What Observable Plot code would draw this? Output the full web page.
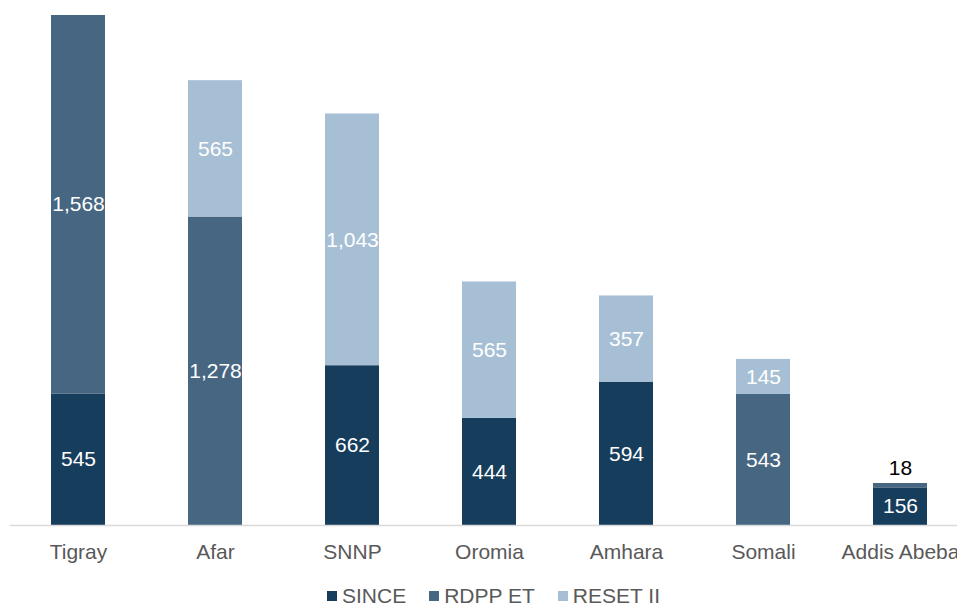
<!DOCTYPE html>
<html>
<head>
<meta charset="utf-8">
<script src="https://cdn.jsdelivr.net/npm/d3@7"></script>
<script src="https://cdn.jsdelivr.net/npm/@observablehq/plot@0.6"></script>
<style>
  html, body { margin: 0; padding: 0; background: #fff; overflow: hidden; }
  body { width: 957px; height: 606px; font-family: "Liberation Sans", Arial, sans-serif; }
  #chart svg { display: block; overflow: visible; }
  #legend { display: flex; justify-content: center; gap: 23px; margin-left: 30px; margin-top: 14px;
            font-size: 21px; line-height: 24px; color: #595959; }
  #legend span.sw { display: inline-block; width: 10px; height: 10px; margin-right: 5px; vertical-align: 2px; }
</style>
</head>
<body>
<div id="chart"></div>
<div id="legend"></div>
<script>
const regions = ["Tigray", "Afar", "SNNP", "Oromia", "Amhara", "Somali", "Addis Abeba"];
const programmes = ["SINCE", "RDPP ET", "RESET II"];
const sinceValues = [545, 0, 662, 444, 594, 0, 156];
const rdppValues = [1568, 1278, 0, 0, 0, 543, 18];
const resetValues = [0, 565, 1043, 565, 357, 145, 0];
const colors = ["#173d5c", "#466682", "#a6bfd4"];

const series = [sinceValues, rdppValues, resetValues];
const rows = [];
regions.forEach((r, i) => {
  let base = 0;
  series.forEach((vals, k) => {
    const v = vals[i];
    if (v > 0) rows.push({region: r, programme: programmes[k], value: v, y1: base, y2: base + v});
    base += v;
  });
});

const totals = regions.map((r, i) => sinceValues[i] + rdppValues[i] + resetValues[i]);
const maxTotal = d3.max(totals);
const fmt = d3.format(",");

const insideRows = rows.filter(d => d.value >= 100);
const outsideRows = rows.filter(d => d.value < 100);

const H = 570;
const plot = Plot.plot({
  width: 957,
  height: H,
  marginTop: 15,
  marginBottom: H - 525,
  marginLeft: 10,
  marginRight: 0,
  style: {fontFamily: '"Liberation Sans", Arial, sans-serif', background: "#fff", overflow: "visible"},
  x: {domain: regions, range: [9.5, 968.5], paddingInner: 0.605, paddingOuter: 0.3025, label: null},
  y: {domain: [0, maxTotal], axis: null},
  color: {domain: programmes, range: colors},
  marks: [
    Plot.rectY(rows, {x: "region", y1: "y1", y2: "y2", fill: "programme"}),
    Plot.ruleY([0], {stroke: "#d9d9d9", strokeWidth: 1.5}),
    Plot.axisX({tickSize: 0, tickPadding: 19, fontSize: 21, fill: "#595959", label: null}),
    Plot.text(insideRows, {x: "region", y: d => (d.y1 + d.y2) / 2, text: d => fmt(d.value),
      fill: "#fff", fontSize: 21}),
    Plot.text(outsideRows, {x: "region", y: "y2", text: d => fmt(d.value), dy: -15,
      fill: "#000", fontSize: 21})
  ]
});
document.getElementById("chart").appendChild(plot);

const legend = document.getElementById("legend");
programmes.forEach((p, k) => {
  const item = document.createElement("div");
  item.innerHTML = `<span class="sw" style="background:${colors[k]}"></span>${p}`;
  legend.appendChild(item);
});
</script>
</body>
</html>
